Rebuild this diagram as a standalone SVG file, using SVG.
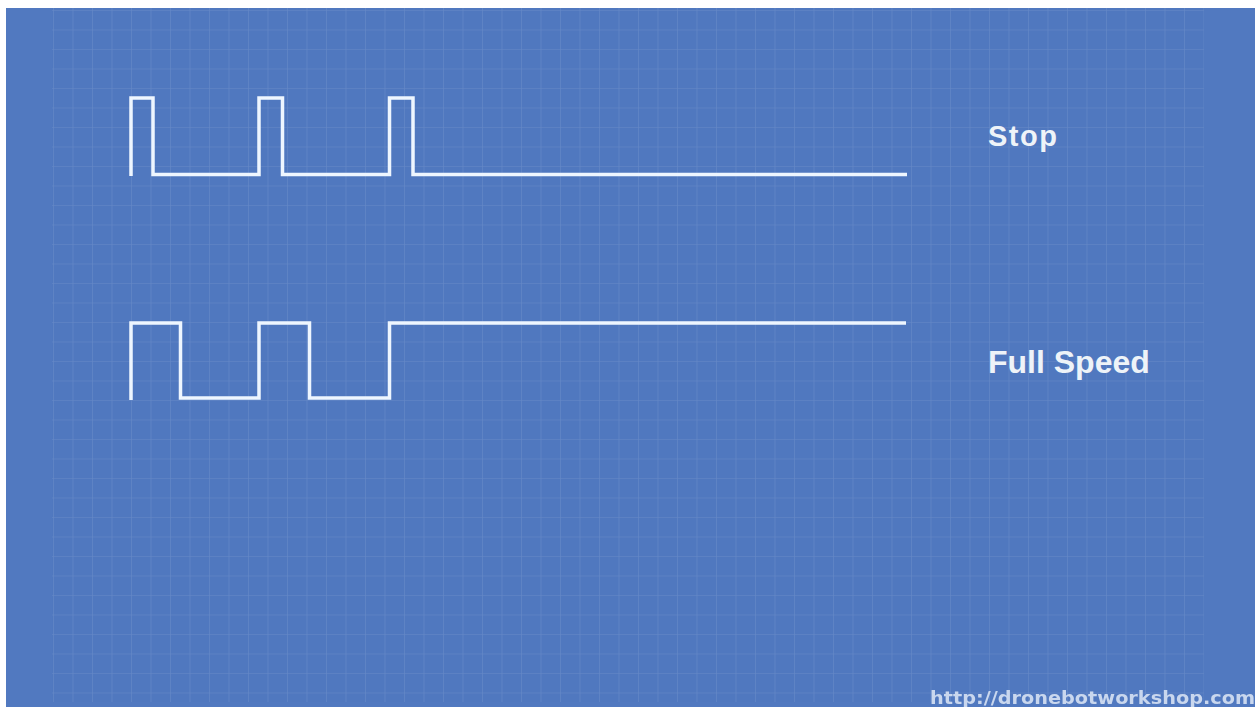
<svg xmlns="http://www.w3.org/2000/svg" width="1255" height="707" viewBox="0 0 1255 707">
  <defs>
    <pattern id="grid" x="53" y="10" width="19.5" height="19.5" patternUnits="userSpaceOnUse">
      <path d="M0 0 V19.5 M0 0 H19.5" fill="none" stroke="#ffffff" stroke-opacity="0.13" stroke-width="1.2"/>
    </pattern>
    <filter id="soft" x="-5%" y="-30%" width="110%" height="160%">
      <feGaussianBlur stdDeviation="0.6"/>
    </filter>
  </defs>
  <style>
    .wave { fill: none; stroke: #eef6ff; stroke-width: 3.5; stroke-linejoin: miter; stroke-linecap: butt; }
    .label { font-family: "Liberation Sans", Arial, sans-serif; font-weight: bold; fill: #eef3f8; }
    .url { font-family: "DejaVu Sans", Verdana, sans-serif; font-weight: bold; fill: #c9d7ee; }
  </style>
  <rect x="0" y="0" width="1255" height="707" fill="#ffffff"/>
  <rect x="6" y="8" width="1249" height="699" fill="#5179c0"/>
  <rect x="52" y="8" width="1152" height="694" fill="#5078bf"/>
  <rect x="52" y="8" width="1152" height="694" fill="url(#grid)"/>

  <g id="stop-signal">
    <polyline class="wave" points="131,176 131,98 153,98 153,174.5 259,174.5 259,98 282.5,98 282.5,174.5 389.5,174.5 389.5,98 413,98 413,174.5 907,174.5"/>
  </g>
  <g id="stop-label">
    <text class="label" x="988" y="146" font-size="29" textLength="69" lengthAdjust="spacing">Stop</text>
  </g>

  <g id="full-speed-signal">
    <polyline class="wave" points="131,400 131,323 180.5,323 180.5,398 259,398 259,323 309.5,323 309.5,398 389.5,398 389.5,323 906,323"/>
  </g>
  <g id="full-speed-label">
    <text class="label" x="988" y="373" font-size="32">Full Speed</text>
  </g>

  <g id="watermark">
    <text class="url" x="930" y="704" font-size="17" textLength="325" lengthAdjust="spacingAndGlyphs" filter="url(#soft)">http://dronebotworkshop.com</text>
  </g>
</svg>
